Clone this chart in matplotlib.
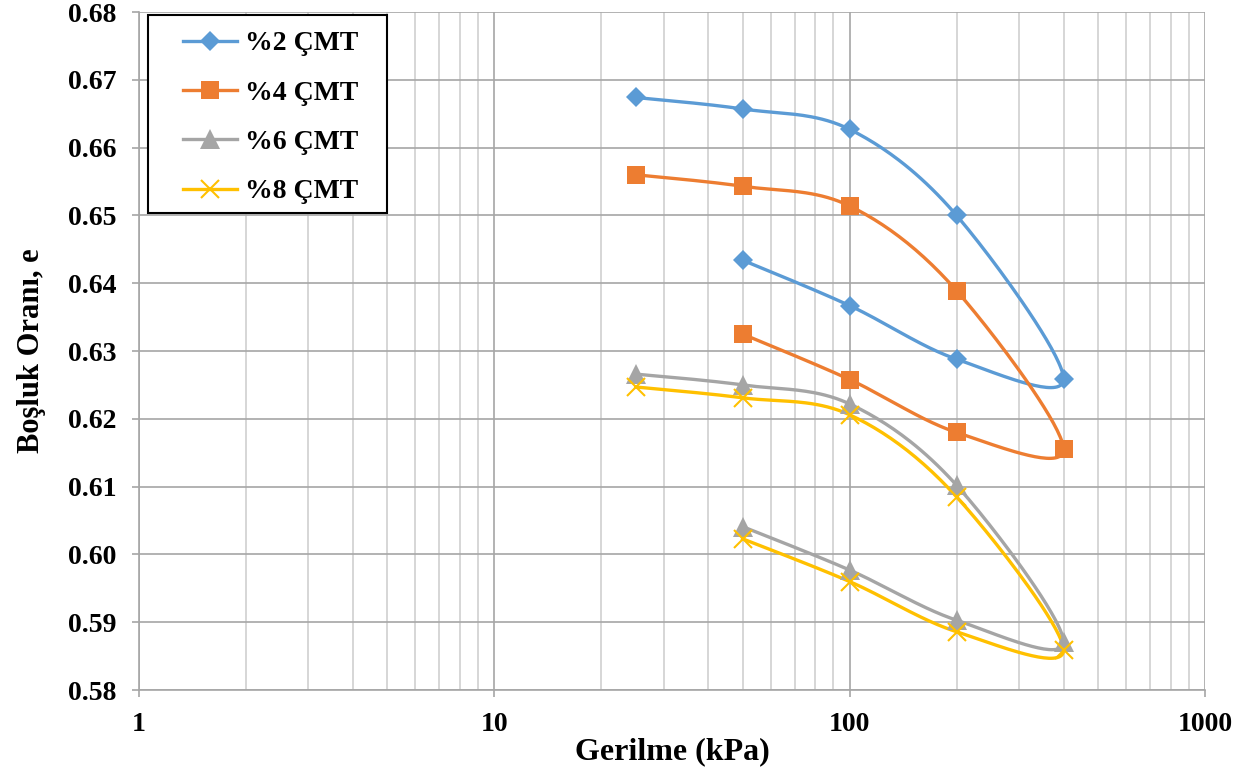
import matplotlib
matplotlib.use('Agg')
import matplotlib.pyplot as plt
import numpy as np
from matplotlib.patches import Rectangle
from matplotlib.ticker import LogLocator, FixedLocator, NullFormatter

plt.rcParams['font.family'] = ['Liberation Serif', 'DejaVu Serif']
plt.rcParams['font.weight'] = 'bold'

# stress steps: loading then unloading
stress = [25, 50, 100, 200, 400, 200, 100, 50]

e_cmt2 = [0.6674, 0.6657, 0.6627, 0.6500, 0.6259, 0.6288, 0.6367, 0.6434]
e_cmt4 = [0.6560, 0.6543, 0.6514, 0.6389, 0.6155, 0.6180, 0.6258, 0.6325]
e_cmt6 = [0.6266, 0.6250, 0.6222, 0.6102, 0.5871, 0.5903, 0.5977, 0.6041]
e_cmt8 = [0.6247, 0.6231, 0.6206, 0.6085, 0.5859, 0.5886, 0.5960, 0.6023]

labels = ['%2 ÇMT', '%4 ÇMT', '%6 ÇMT', '%8 ÇMT']
colors = ['#5B9BD5', '#ED7D31', '#A5A5A5', '#FFC000']
markers = ['D', 's', '^', 'x']
msizes = [10, 13, 14, 13]

xlim = (1, 1000)
ylim = (0.58, 0.68)


# Excel-like smoothed line (Catmull-Rom / Bezier), done in screen-proportional space
def smooth(xs, ys, n=40):
    W, H = 1066.0, 678.0
    u = np.log10(xs) / 3.0 * W
    v = (np.asarray(ys) - ylim[0]) / (ylim[1] - ylim[0]) * H
    P = np.column_stack([u, v])
    pts = []
    for i in range(len(P) - 1):
        p0 = P[i - 1] if i > 0 else P[i]
        p1 = P[i]
        p2 = P[i + 1]
        p3 = P[i + 2] if i + 2 < len(P) else P[i + 1]
        c1 = p1 + (p2 - p0) / 6.0
        c2 = p2 - (p3 - p1) / 6.0
        t = np.linspace(0, 1, n)[:, None]
        seg = ((1 - t) ** 3) * p1 + 3 * ((1 - t) ** 2) * t * c1 + 3 * (1 - t) * t ** 2 * c2 + t ** 3 * p2
        pts.append(seg if i == 0 else seg[1:])
    pts = np.vstack(pts)
    return 10 ** (pts[:, 0] / W * 3.0), pts[:, 1] / H * (ylim[1] - ylim[0]) + ylim[0]


fig = plt.figure(figsize=(12.44, 7.71), dpi=100)
ax = fig.add_axes([0.1117, 0.105, 0.8569, 0.8794])

series = [e_cmt2, e_cmt4, e_cmt6, e_cmt8]
for e, lab, c, m, ms in zip(series, labels, colors, markers, msizes):
    sx, sy = smooth(np.array(stress, dtype=float), e)
    ax.plot(sx, sy, color=c, lw=2.4, zorder=3)
    ax.plot(stress, e, linestyle='none', marker=m, ms=ms, color=c,
            mew=1.5 if m == 'x' else 0, zorder=4)
    ax.plot([], [], color=c, lw=2.4, marker=m, ms=ms,
            mew=1.5 if m == 'x' else 0, label=lab)

ax.set_xscale('log')
ax.set_xlim(*xlim)
ax.set_ylim(*ylim)
yt = np.arange(0.58, 0.6801, 0.01)
ax.yaxis.set_major_locator(FixedLocator(yt))
ax.set_yticklabels([f'{v:.2f}' for v in yt])
ax.xaxis.set_minor_locator(LogLocator(base=10, subs=np.arange(2, 10), numticks=10))
ax.xaxis.set_minor_formatter(NullFormatter())
ax.set_xticks([1, 10, 100, 1000])
ax.set_xticklabels(['1', '10', '100', '1000'])

ax.grid(which='major', axis='both', color='#A6A6A6', lw=1.2, zorder=0)
ax.grid(which='minor', axis='x', color='#D0D0D0', lw=1.2, zorder=0)
ax.set_axisbelow(True)

for s in ['top', 'right']:
    ax.spines[s].set_visible(False)
for s in ['left', 'bottom']:
    ax.spines[s].set_color('#A6A6A6')
    ax.spines[s].set_linewidth(1.2)

ax.tick_params(axis='both', which='major', length=5, width=1.2, color='#A6A6A6',
               labelsize=20, pad=11)
ax.tick_params(axis='x', which='minor', length=0)
for t in ax.get_xticklabels() + ax.get_yticklabels():
    t.set_fontweight('bold')

ax.set_xlabel('Gerilme (kPa)', fontsize=23, fontweight='bold', labelpad=0)
ax.set_ylabel('Boşluk Oranı, e', fontsize=22, fontweight='bold', labelpad=16)

# legend content without frame, frame drawn as a box in axes coordinates
leg = ax.legend(loc='upper left', bbox_to_anchor=(0.0413, 0.972), borderaxespad=0,
                frameon=False, borderpad=0,
                prop={'family': 'Liberation Serif', 'weight': 'bold', 'size': 20},
                handlelength=1.95, labelspacing=0.86, handletextpad=0.3)
leg.set_zorder(6)
ax.add_patch(Rectangle((0.0084, 0.7035), 0.2242, 0.2921, transform=ax.transAxes,
                       facecolor='white', edgecolor='black', lw=1.5, zorder=5))

fig.savefig('out.png', dpi=100)
